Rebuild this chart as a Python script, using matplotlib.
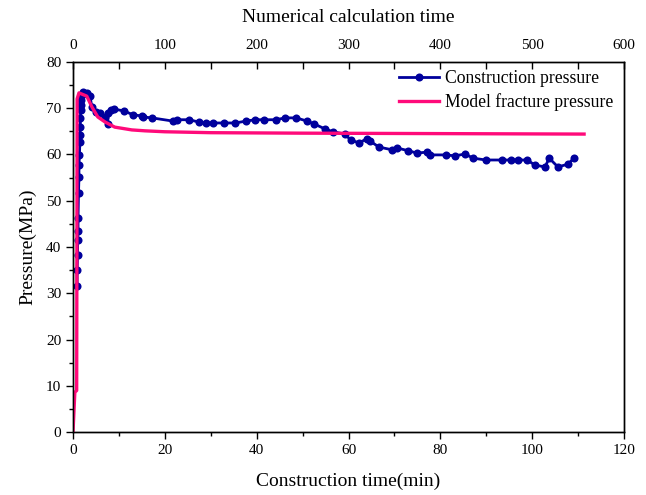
import matplotlib
matplotlib.use("Agg")
import matplotlib.pyplot as plt
from matplotlib.ticker import MultipleLocator

plt.rcParams["font.family"] = ["Liberation Serif", "DejaVu Serif"]
plt.rcParams["mathtext.fontset"] = "stix"

# Measured construction pressure (time in min, pressure in MPa)
t_meas = [0.9, 0.9, 1.0, 1.0, 1.1, 1.1, 1.2, 1.3, 1.3, 1.4, 1.5, 1.5, 1.6, 1.6, 1.7,
          1.8, 1.8, 2.0, 2.2, 3.0, 3.7, 4.1, 5.0, 5.9, 7.0, 7.6, 7.6, 8.3, 8.9,
          11.1, 13.0, 15.0, 15.2, 17.2, 21.8, 22.6, 25.3, 27.4, 29.0, 30.5, 32.9,
          35.3, 37.7, 39.6, 41.6, 44.2, 46.2, 48.6, 51.0, 52.5, 54.9, 56.6, 59.2,
          60.5, 62.3, 64.0, 64.7, 66.6, 69.5, 70.6, 73.0, 74.9, 77.1, 77.7, 81.2,
          83.2, 85.4, 87.1, 89.9, 93.4, 95.4, 96.9, 98.9, 100.6, 102.8, 103.7,
          105.6, 107.8, 109.1]
p_meas = [31.6, 35.0, 38.3, 41.5, 43.5, 46.3, 51.7, 55.1, 57.7, 59.9, 62.7, 64.2,
          66.0, 67.9, 69.6, 70.7, 71.8, 72.8, 73.5, 73.3, 72.6, 70.3, 69.2, 69.0,
          68.1, 66.5, 69.0, 69.6, 69.8, 69.4, 68.6, 68.3, 68.1, 67.9, 67.2, 67.5,
          67.5, 67.0, 66.8, 66.8, 66.8, 66.8, 67.2, 67.5, 67.5, 67.5, 67.9, 67.9,
          67.2, 66.6, 65.5, 64.9, 64.4, 63.1, 62.5, 63.4, 62.9, 61.6, 61.0, 61.4,
          60.8, 60.3, 60.5, 59.9, 59.9, 59.7, 60.1, 59.2, 58.8, 58.8, 58.8, 58.8,
          58.8, 57.7, 57.3, 59.2, 57.3, 57.9, 59.2]

# Model fracture pressure curve
t_model = [0.0, 0.4, 0.8, 0.9, 1.3, 3.0, 4.1, 5.4, 7.0, 9.1, 12.8, 15.7, 20.0,
           30.0, 49.4, 80.0, 111.3]
p_model = [0.0, 8.6, 9.0, 72.0, 73.3, 72.6, 70.3, 68.1, 67.0, 65.9, 65.3,
           65.1, 64.9, 64.7, 64.6, 64.5, 64.4]

blue = "#00009c"
pink = "#ff0a7a"

fig = plt.figure(figsize=(6.46, 4.95), dpi=100)
ax = fig.add_axes([0.113, 0.127, 0.853, 0.748])

ax.plot(t_meas, p_meas, color=blue, lw=2.0, marker="o", ms=5.8, mew=0,
        label="Construction pressure", zorder=2)
ax.plot(t_model, p_model, color=pink, lw=2.4, label="Model fracture pressure", zorder=3)

ax.set_xlim(0, 120)
ax.set_ylim(0, 80)
ax.xaxis.set_major_locator(MultipleLocator(20))
ax.xaxis.set_minor_locator(MultipleLocator(10))
ax.yaxis.set_major_locator(MultipleLocator(10))
ax.yaxis.set_minor_locator(MultipleLocator(5))
ax.tick_params(which="both", direction="out", top=False, right=False, labelsize=11, width=1.0)
ax.tick_params(which="major", length=5)
ax.tick_params(which="minor", length=3)
ax.set_xlabel("Construction time(min)", fontsize=14, labelpad=11)
ax.set_ylabel("Pressure(MPa)", fontsize=14, labelpad=7)

# Secondary top axis for numerical calculation time
ax2 = ax.twiny()
ax2.set_xlim(0, 600)
ax2.xaxis.set_major_locator(MultipleLocator(100))
ax2.xaxis.set_minor_locator(MultipleLocator(50))
ax2.tick_params(which="both", direction="in", labelsize=11, width=1.0, pad=7)
ax2.tick_params(which="major", length=5)
ax2.tick_params(which="minor", length=5)
ax2.set_xlabel("Numerical calculation time", fontsize=14, labelpad=12)

for a in (ax, ax2):
    for s in a.spines.values():
        s.set_linewidth(1.0)

ax.legend(loc="upper right", bbox_to_anchor=(0.994, 1.0), frameon=False,
          fontsize=12.7, handlelength=2.3, borderaxespad=0.05,
          labelspacing=0.35, handletextpad=0.3)

fig.savefig("out.png", dpi=100)
